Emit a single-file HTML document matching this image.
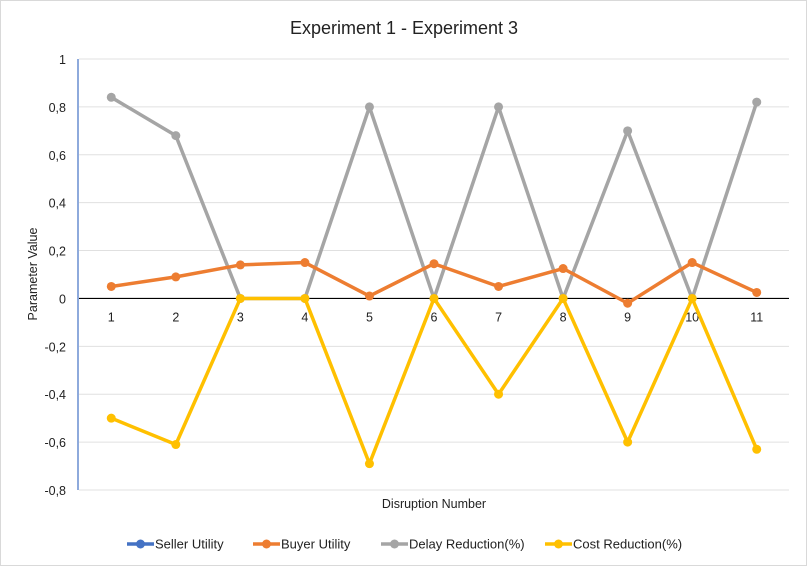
<!DOCTYPE html>
<html><head><meta charset="utf-8"><style>
html,body{margin:0;padding:0;background:#fff}
svg{display:block;font-family:"Liberation Sans",Calibri,sans-serif}
</style></head><body>
<svg id="chart" width="809" height="570">
<rect x="0.5" y="0.5" width="806" height="565" fill="#fff" stroke="#d9d9d9"/>
<text x="404" y="34" text-anchor="middle" font-size="18" fill="#222">Experiment 1 - Experiment 3</text>
<text transform="translate(37,274) rotate(-90)" text-anchor="middle" font-size="12.5" fill="#222">Parameter Value</text>
<text x="434" y="508" text-anchor="middle" font-size="12.5" fill="#222">Disruption Number</text>
<g id="grid"></g><g id="series"></g><g id="legend"></g>
</svg>
<script>
const categories=["1","2","3","4","5","6","7","8","9","10","11"];
const yTicks=[1,0.8,0.6,0.4,0.2,0,-0.2,-0.4,-0.6,-0.8];
const yTickLabels=["1","0,8","0,6","0,4","0,2","0","-0,2","-0,4","-0,6","-0,8"];
const sellerUtility=[null,null,null,null,null,null,null,null,null,null,null];
const buyerUtility=[0.05,0.09,0.14,0.15,0.01,0.145,0.05,0.125,-0.02,0.15,0.025];
const delayReduction=[0.84,0.68,0,0,0.80,0,0.80,0,0.70,0,0.82];
const costReduction=[-0.5,-0.61,0,0,-0.69,0,-0.40,0,-0.60,0,-0.63];
const seriesNames=["Seller Utility","Buyer Utility","Delay Reduction(%)","Cost Reduction(%)"];

const NS="http://www.w3.org/2000/svg";
const L=79,R=789,T=59,B=490,yMax=1,yMin=-0.8;
const step=(R-L)/categories.length;
const x=i=>L+step*(i+0.5);
const y=v=>T+(yMax-v)/(yMax-yMin)*(B-T);
function mk(tag,attrs,parent){const e=document.createElementNS(NS,tag);for(const k in attrs)e.setAttribute(k,attrs[k]);parent.appendChild(e);return e;}
const grid=document.getElementById('grid');
yTicks.forEach((t,i)=>{
  if(t!==0){const g=mk('line',{x1:L,x2:R,y1:y(t),y2:y(t),stroke:'#e0e0e0','stroke-width':1},grid);
  
  }
  const lb=mk('text',{x:66,y:y(t)+5,'text-anchor':'end','font-size':'12.5',fill:'#222'},grid);
  lb.textContent=yTickLabels[i];
  
  
});
const zl=mk('line',{x1:L,x2:R,y1:y(0),y2:y(0),stroke:'#000','stroke-width':1.2},grid);


const ya=mk('line',{x1:L-1,x2:L-1,y1:T,y2:B,stroke:'#4472c4','stroke-width':1.2},grid);


categories.forEach((c,i)=>{
  const t=mk('text',{x:x(i),y:y(0)+23,'text-anchor':'middle','font-size':'12.5',fill:'#222'},grid);
  t.textContent=c;
  
  
});
const sg=document.getElementById('series');
const allSeries=[[sellerUtility,'#4472c4','seller-utility'],[delayReduction,'#a5a5a5','delay-reduction'],[costReduction,'#ffc000','cost-reduction'],[buyerUtility,'#ed7d31','buyer-utility']];
allSeries.forEach(([data,col,name])=>{
  const pts=data.map((v,i)=>v==null?null:[x(i),y(v)]).filter(p=>p);
  if(!pts.length)return;
  const pl=mk('polyline',{points:pts.map(p=>p.join(',')).join(' '),fill:'none',stroke:col,'stroke-width':3.5,'stroke-linejoin':'round'},sg);
  
  
  pts.forEach(p=>{const c=mk('circle',{cx:p[0],cy:p[1],r:4.5,fill:col},sg);
  
  });
});
const lg=document.getElementById('legend');
const legendCols=['#4472c4','#ed7d31','#a5a5a5','#ffc000'];
const legendX=[127,253,381,545];
seriesNames.forEach((n,i)=>{
  const gx=legendX[i];
  const g=mk('g',{},lg);
  
  
  mk('line',{x1:gx,x2:gx+27,y1:544,y2:544,stroke:legendCols[i],'stroke-width':3.5},g);
  mk('circle',{cx:gx+13.5,cy:544,r:4.5,fill:legendCols[i]},g);
  const t=mk('text',{x:gx+28,y:548.5,'font-size':'13',fill:'#222'},g);
  t.textContent=n;
});
</script>
</body></html>
